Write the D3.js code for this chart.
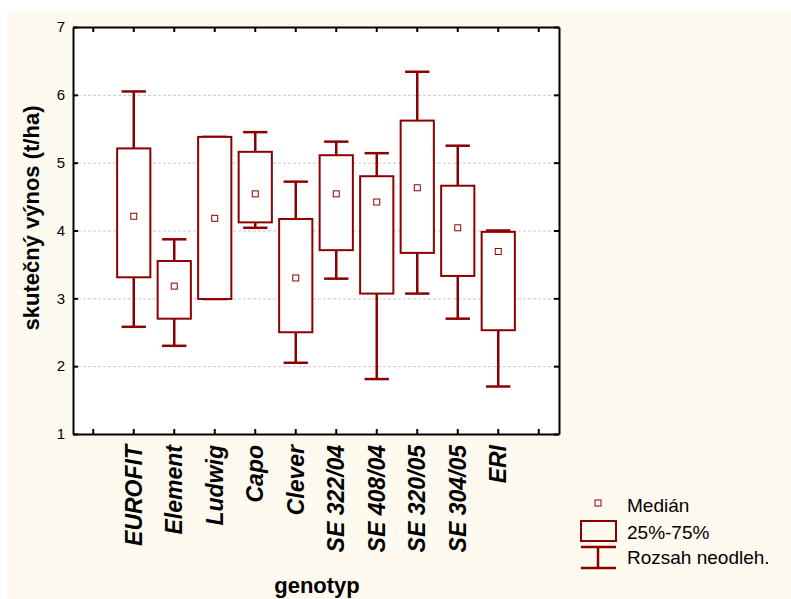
<!DOCTYPE html>
<html lang="cs">
	<head>
		<meta charset="utf-8">
		<title>genotyp - skutečný výnos</title>
		<script type="text/javascript" src="https://cdn.jsdelivr.net/npm/d3@7"></script>
		<style type="text/css">
			body { margin: 0; background: #ffffff; }
			svg { display: block; font-family: "Liberation Sans", Arial, sans-serif; }
			.grid line { stroke: #c8c8c8; stroke-width: 1; stroke-dasharray: 3,2; }
			.grid path { display: none; }
			.frame path, .frame line { stroke: #000000; stroke-width: 2; }
			.frame text { font-size: 15px; fill: #000000; }
			.xlab text { font-size: 23px; font-weight: bold; font-style: italic; fill: #000000; }
		</style>
	</head>
	<body>
		<script type="text/javascript">

			//SVG width and height
			var w = 791;
			var h = 599;
			var plotLeft = 73, plotRight = 559, plotTop = 27, plotBottom = 434;
			var boxColor = "#8b0000";

			//Data
			var genotypes = ["EUROFIT", "Element", "Ludwig", "Capo", "Clever", "SE 322/04", "SE 408/04", "SE 320/05", "SE 304/05", "ERI"];
			var whiskerMin = [2.58, 2.30, 2.99, 4.04, 2.05, 3.29, 1.81, 3.07, 2.70, 1.70];
			var q25 = [3.31, 2.70, 2.99, 4.12, 2.50, 3.71, 3.07, 3.67, 3.33, 2.53];
			var medians = [4.21, 3.18, 4.18, 4.54, 3.30, 4.54, 4.42, 4.63, 4.04, 3.69];
			var q75 = [5.21, 3.55, 5.38, 5.16, 4.17, 5.11, 4.80, 5.62, 4.66, 3.98];
			var whiskerMax = [6.05, 3.87, 5.38, 5.45, 4.72, 5.31, 5.14, 6.34, 5.25, 4.00];
			var yTicks = [1, 2, 3, 4, 5, 6, 7];
			var gridTicks = [2, 3, 4, 5, 6];
			var legendLabels = ["Medián", "25%-75%", "Rozsah neodleh."];

			// one empty slot on each side of the genotypes
			var slots = ["_l"].concat(genotypes).concat(["_r"]);

			var dataset = genotypes.map(function(g, i) {
				return {name: g, lo: whiskerMin[i], q1: q25[i], med: medians[i], q3: q75[i], hi: whiskerMax[i]};
			});

			var xScale = d3.scaleBand()
							.domain(slots)
							.range([plotLeft, plotRight]);

			var yScale = d3.scaleLinear()
							.domain([1, 7])
							.range([plotBottom, plotTop]);

			var svg = d3.select("body")
						.append("svg")
						.attr("width", w)
						.attr("height", h);

			// cream background and white plot area
			svg.append("rect")
				.attr("x", 7).attr("y", 10)
				.attr("width", w - 7).attr("height", h - 10)
				.attr("fill", "#fffaef");
			svg.append("rect")
				.attr("x", plotLeft).attr("y", plotTop)
				.attr("width", plotRight - plotLeft).attr("height", plotBottom - plotTop)
				.attr("fill", "#ffffff");

			// dashed grid lines
			svg.append("g")
				.attr("class", "grid")
				.attr("transform", "translate(" + plotLeft + ",0)")
				.call(d3.axisLeft(yScale).tickValues(gridTicks).tickSize(-(plotRight - plotLeft)).tickFormat(""));

			// boxes
			var bw = xScale.bandwidth() * 0.82;
			var cw = xScale.bandwidth() * 0.6;
			var boxes = svg.append("g")
							.selectAll("g")
							.data(dataset)
							.enter()
							.append("g")
							.attr("transform", function(d) {
								return "translate(" + (xScale(d.name) + xScale.bandwidth() / 2) + ",0)";
							});

			// whisker stems
			boxes.append("line")
				.attr("x1", 0).attr("x2", 0)
				.attr("y1", function(d) { return yScale(d.hi); })
				.attr("y2", function(d) { return yScale(d.lo); })
				.attr("stroke", boxColor)
				.attr("stroke-width", 2.5);

			// whisker caps
			boxes.selectAll(".cap")
				.data(function(d) { return [d.lo, d.hi]; })
				.enter()
				.append("line")
				.attr("class", "cap")
				.attr("x1", -cw / 2).attr("x2", cw / 2)
				.attr("y1", function(v) { return yScale(v); })
				.attr("y2", function(v) { return yScale(v); })
				.attr("stroke", boxColor)
				.attr("stroke-width", 2.5);

			boxes.append("rect")
				.attr("x", -bw / 2)
				.attr("width", bw)
				.attr("y", function(d) { return yScale(d.q3); })
				.attr("height", function(d) { return yScale(d.q1) - yScale(d.q3); })
				.attr("fill", "#ffffff")
				.attr("stroke", boxColor)
				.attr("stroke-width", 2);

			// median squares
			boxes.append("rect")
				.attr("x", -3)
				.attr("y", function(d) { return yScale(d.med) - 3; })
				.attr("width", 6)
				.attr("height", 6)
				.attr("fill", "#ffffff")
				.attr("stroke", boxColor)
				.attr("stroke-width", 1);

			// frame: axes on all four sides with inside ticks
			var noLabel = function(d) { return ""; };
			svg.append("g")
				.attr("class", "frame")
				.attr("transform", "translate(" + plotLeft + ",0)")
				.call(d3.axisLeft(yScale).tickValues(yTicks).tickSize(-5).tickSizeOuter(0).tickPadding(8)
					.tickFormat(d3.format("d")));
			svg.append("g")
				.attr("class", "frame")
				.attr("transform", "translate(" + plotRight + ",0)")
				.call(d3.axisRight(yScale).tickValues(yTicks).tickSize(-5).tickSizeOuter(0).tickFormat(noLabel));
			svg.append("g")
				.attr("class", "frame")
				.attr("transform", "translate(0," + plotTop + ")")
				.call(d3.axisTop(xScale).tickSize(-5).tickSizeOuter(0).tickFormat(noLabel));
			var xAxis = svg.append("g")
				.attr("class", "frame xlab")
				.attr("transform", "translate(0," + plotBottom + ")")
				.call(d3.axisBottom(xScale).tickSize(-5).tickSizeOuter(0)
					.tickFormat(function(d) { return genotypes.indexOf(d) < 0 ? "" : d; }));
			xAxis.selectAll("text")
				.attr("transform", "rotate(-90)")
				.attr("x", -11)
				.attr("y", 0)
				.attr("dy", "0.35em")
				.attr("text-anchor", "end");

			// axis titles
			svg.append("text")
				.attr("transform", "translate(39,218) rotate(-90)")
				.attr("text-anchor", "middle")
				.attr("font-size", "22px")
				.attr("font-weight", "bold")
				.text("skutečný výnos (t/ha)");

			svg.append("text")
				.attr("x", 317)
				.attr("y", 593)
				.attr("text-anchor", "middle")
				.attr("font-size", "22px")
				.attr("font-weight", "bold")
				.text("genotyp");

			// legend
			var legend = svg.append("g").attr("transform", "translate(598,0)");
			legend.append("rect")
				.attr("x", -3).attr("y", 500).attr("width", 6).attr("height", 6)
				.attr("fill", "#ffffff").attr("stroke", boxColor).attr("stroke-width", 1);
			legend.append("rect")
				.attr("x", -17).attr("y", 521).attr("width", 35).attr("height", 20)
				.attr("fill", "none").attr("stroke", boxColor).attr("stroke-width", 2);
			legend.append("line")
				.attr("x1", -17).attr("x2", 18).attr("y1", 547).attr("y2", 547)
				.attr("stroke", boxColor).attr("stroke-width", 2.5);
			legend.append("line")
				.attr("x1", -17).attr("x2", 18).attr("y1", 568).attr("y2", 568)
				.attr("stroke", boxColor).attr("stroke-width", 2.5);
			legend.append("line")
				.attr("x1", 0).attr("x2", 0).attr("y1", 547).attr("y2", 568)
				.attr("stroke", boxColor).attr("stroke-width", 2.5);

			legend.selectAll(".ltext")
				.data(legendLabels)
				.enter()
				.append("text")
				.attr("class", "ltext")
				.attr("x", 29)
				.attr("y", function(d, i) { return [505, 532, 557][i]; })
				.attr("dy", "0.35em")
				.attr("font-size", "19px")
				.attr("fill", "#000000")
				.text(function(d) { return d; });

		</script>
	</body>
</html>
